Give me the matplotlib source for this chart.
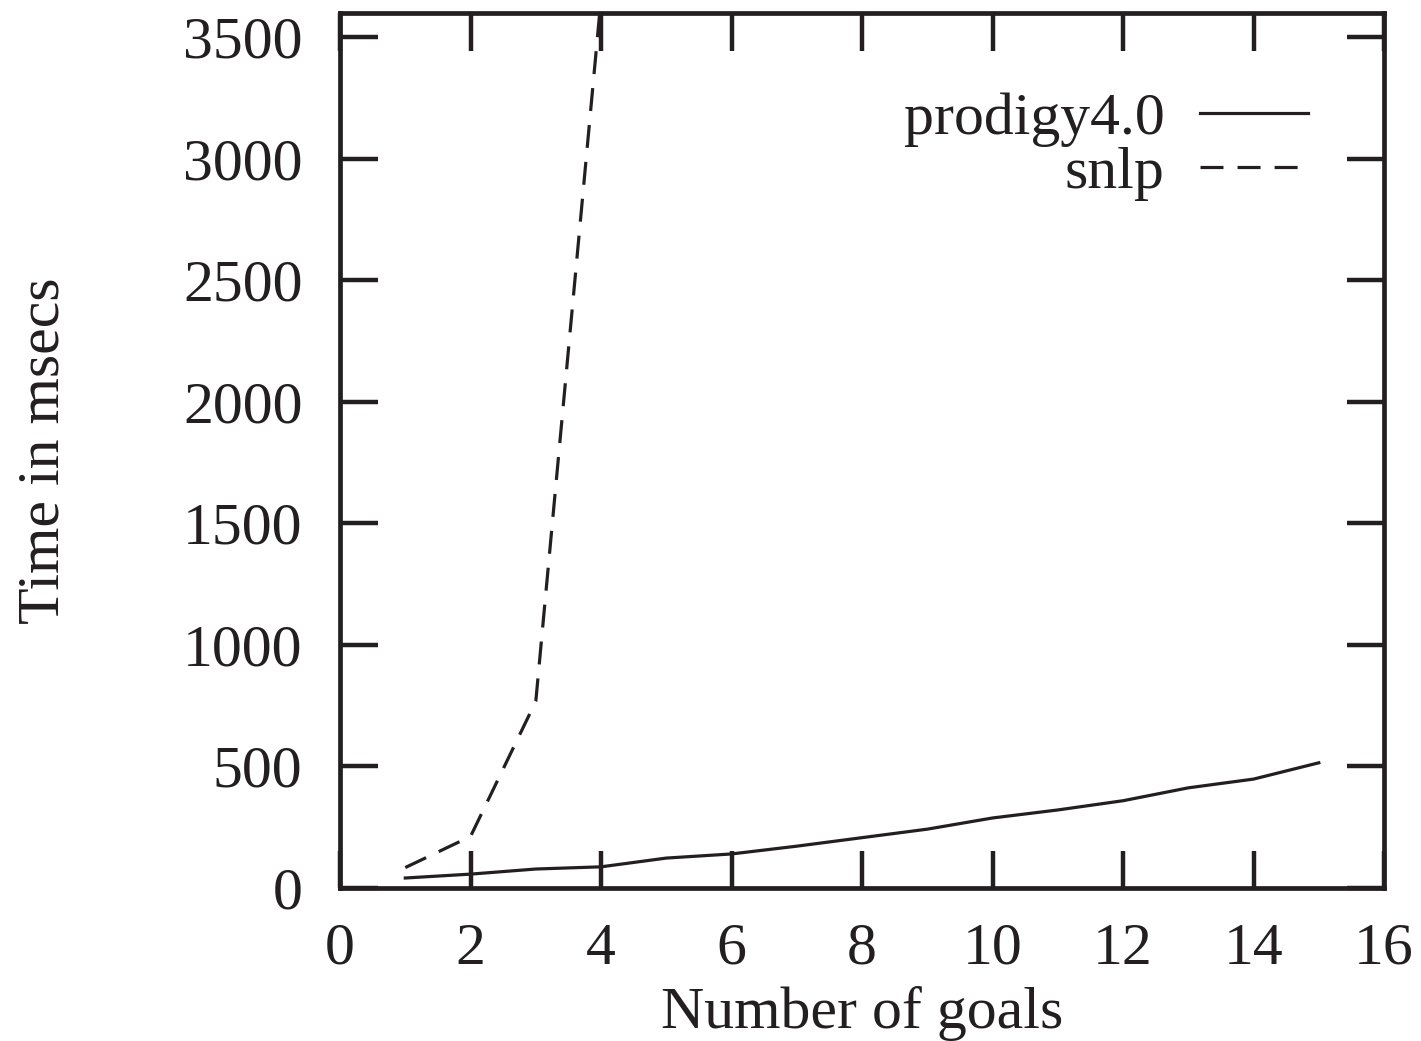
import numpy as np
import matplotlib
matplotlib.use('Agg')
import matplotlib.pyplot as plt

plt.rcParams['font.family'] = ['Liberation Serif', 'DejaVu Serif']
plt.rcParams['font.size'] = 43

# data
goals_prodigy = [1, 2, 3, 4, 5, 6, 7, 8, 9, 10, 11, 12, 13, 14, 15]
time_prodigy = [41, 57, 78, 87, 123, 140, 172, 207, 242, 288, 321, 359, 412, 448, 515]
goals_snlp = [1, 2, 3, 4]
time_snlp = [84, 212, 768, 3660]

ink = '#231f20'

fig = plt.figure(figsize=(14.21, 10.41), dpi=100)
ax = fig.add_axes([0.2393, 0.147, 0.7347, 0.8405])

ax.plot(goals_prodigy, time_prodigy, color=ink, lw=2.3, label='prodigy4.0')
l2, = ax.plot(goals_snlp, time_snlp, color=ink, lw=2.3, label='snlp')
l2.set_dashes([7.2, 4.4])

ax.set_xlim(0, 16)
ax.set_ylim(0, 3600)
ax.set_xticks(np.arange(0, 17, 2))
ax.set_yticks(np.arange(0, 3501, 500))
ax.tick_params(direction='in', length=27, width=3.2, top=True, right=True,
               color=ink, labelcolor=ink)
ax.tick_params(axis='x', pad=25)
ax.tick_params(axis='y', pad=27)
for s in ax.spines.values():
    s.set_linewidth(3.4)
    s.set_color(ink)

ax.set_xlabel('Number of goals', color=ink)
ax.set_ylabel('Time in msecs', color=ink)
ax.xaxis.set_label_coords(0.5, -0.112)
ax.yaxis.set_label_coords(-0.257, 0.5)

leg = ax.legend(loc='upper right', frameon=False, markerfirst=False,
                handlelength=1.81, handletextpad=0.59, labelspacing=0.0,
                borderpad=0, bbox_to_anchor=(0.927, 0.91), borderaxespad=0)
for t in leg.get_texts():
    t.set_color(ink)

fig.savefig('out.png', dpi=100)
